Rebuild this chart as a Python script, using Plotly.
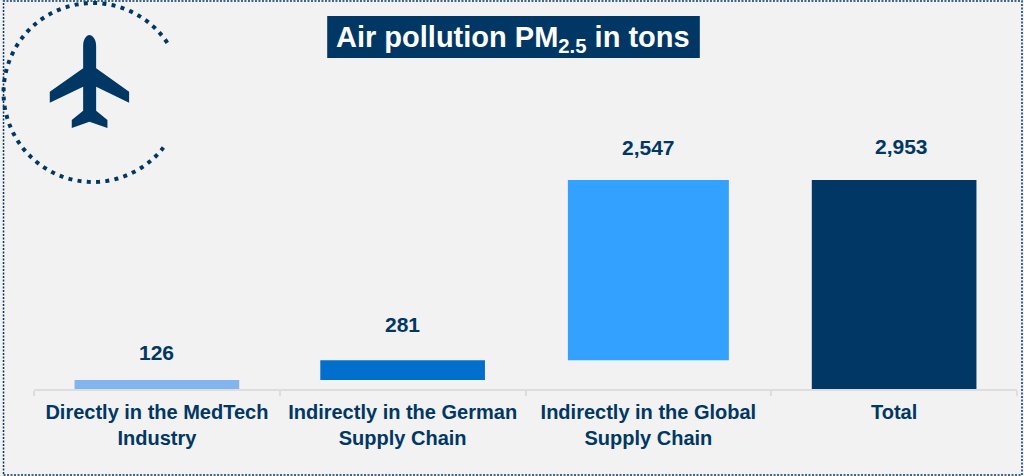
import math
import plotly.graph_objects as go

categories = ["Directly in the MedTech<br>Industry", "Indirectly in the German<br>Supply Chain",
              "Indirectly in the Global<br>Supply Chain", "Total"]
values = [126, 281, 2547, 2953]
bases = [0, 126, 407, 0]
labels = ["126", "281", "2,547", "2,953"]
label_shift_y = [28, 36, 32, 34]
label_shift_x = [0, 0, 0, 7]
bar_widths = [0.67, 0.67, 0.655, 0.67]
colors = ["#82B4EF", "#0070CC", "#33A1FF", "#003764"]

NAVY = "#003764"
W, H = 1024, 476
ML, MR, MT, MB = 33.5, 6.5, 100, 87
PW, PH = W - ML - MR, H - MT - MB


def px(x):
    return (x - ML) / PW


def py(y):
    return 1 - (y - MT) / PH


def pt(x, y):
    return f"{px(x):.5f},{py(y):.5f}"


fig = go.Figure(go.Bar(
    x=categories, y=values, base=bases, marker=dict(color=colors, line_width=0),
    width=bar_widths, hoverinfo="skip", showlegend=False,
))

for c, v, b, t, sy, sx in zip(categories, values, bases, labels, label_shift_y, label_shift_x):
    fig.add_annotation(x=c, y=v + b, text=f"<b>{t}</b>", showarrow=False, yanchor="middle",
                       yshift=sy, xshift=sx, font=dict(size=21, color=NAVY, family="Liberation Sans"))

# title plate and title text
fig.add_shape(type="rect", xref="paper", yref="paper", x0=px(327), x1=px(700), y0=py(58), y1=py(16),
              fillcolor=NAVY, line_width=0, layer="above")
fig.add_annotation(xref="paper", yref="paper", x=px(513), y=py(39), xanchor="center", yanchor="middle",
                   text="<b>Air pollution PM<sub>2.5</sub> in tons</b>",
                   showarrow=False, align="center",
                   font=dict(size=29, color="white", family="Liberation Sans"))

# dotted frame
fig.add_shape(type="rect", xref="paper", yref="paper", x0=px(3), x1=px(1022.5), y0=py(475), y1=py(1),
              line=dict(color=NAVY, width=1.5, dash="2px,1.5px"), layer="above")

# dotted arc around the icon
cx, cy, r = 92.5, 92.5, 89.5
steps = 120
a0, a1 = math.radians(-33.7), math.radians(-322)
arc = []
for i in range(steps + 1):
    a = a0 + (a1 - a0) * i / steps
    arc.append(pt(cx + r * math.cos(a), cy + r * math.sin(a)))
fig.add_shape(type="path", xref="paper", yref="paper", path="M" + " L".join(arc),
              line=dict(color=NAVY, width=4, dash="4px,5.3px"), layer="above")

# airplane icon
plane = ("M" + pt(82.7, 46) + " C" + pt(82.7, 39) + " " + pt(86, 35) + " " + pt(89, 35)
         + " C" + pt(92, 35) + " " + pt(95.7, 39) + " " + pt(95.7, 46)
         + " L" + " L".join(pt(x, y) for x, y in [
             (95.7, 68.3), (128.7, 91.7), (128.7, 102.7), (95.7, 86.7), (95.7, 110.7),
             (107, 120), (107, 128), (89, 121.7), (71.3, 128), (71.3, 120), (82.7, 110.7),
             (82.7, 86.7), (49.3, 102.7), (49.3, 91.7), (82.7, 68.3)]) + " Z")
fig.add_shape(type="path", xref="paper", yref="paper", path=plane, fillcolor=NAVY, line_width=0, layer="above")

fig.update_layout(
    width=W, height=H, autosize=False,
    margin=dict(l=ML, r=MR, t=MT, b=MB),
    paper_bgcolor="#F2F2F2", plot_bgcolor="#F2F2F2",
    showlegend=False,
    xaxis=dict(type="category", categoryorder="array", categoryarray=categories, showgrid=False,
               showline=True, linecolor="#DDDDDD", linewidth=2, ticks="outside", tickson="boundaries",
               ticklen=5, tickwidth=2, tickcolor="#DDDDDD", zeroline=False, fixedrange=True,
               ticklabelstandoff=4,
               tickfont=dict(size=20, color=NAVY, family="Liberation Sans", weight="bold")),
    yaxis=dict(visible=False, range=[0, 289 / 209 * 2953], fixedrange=True),
)
fig.write_html("out.html", config=dict(displayModeBar=False),
               post_script="document.body.style.margin='0';document.body.style.overflow='hidden';")
